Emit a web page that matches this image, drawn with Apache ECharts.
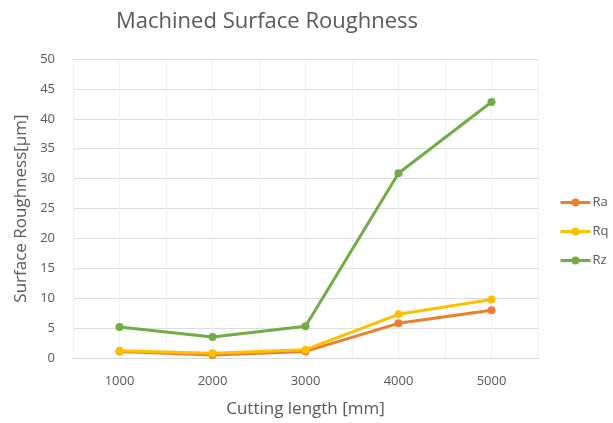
<!DOCTYPE html>
<html><head><meta charset="utf-8">
<script src="https://cdn.jsdelivr.net/npm/echarts@6/dist/echarts.min.js"></script>
<style>html,body{margin:0;padding:0;background:#fff}#c{width:613px;height:423px}</style>
</head><body><div id="c"></div>
<script>
const cuttingLength = [1000, 2000, 3000, 4000, 5000];
const ra = [1.1, 0.5, 1.1, 5.8, 8.0];
const rq = [1.2, 0.8, 1.4, 7.3, 9.8];
const rz = [5.2, 3.5, 5.3, 30.9, 42.8];
const seriesNames = ['Ra', 'Rq', 'Rz'];
const colors = ['#ED7D31', '#FFC000', '#70AD47'];
const fontFam = '"Open Sans", "Noto Sans", sans-serif';
const pairs = arr => cuttingLength.map((x, i) => [x, arr[i]]);
const chart = echarts.init(document.getElementById('c'));
chart.setOption({
  animation: false,
  title: { text: 'Machined Surface Roughness', left: 262, textAlign: 'center', top: 6,
    textStyle: { fontFamily: fontFam, fontSize: 22, fontWeight: 'normal', color: '#595959' } },
  grid: { left: 73, right: 75, top: 59, bottom: 65 },
  legend: { orient: 'vertical', left: 554, top: 191, itemGap: 16, itemWidth: 30, itemHeight: 10,
    lineStyle: { width: 3 },
    data: seriesNames, textStyle: { fontFamily: fontFam, fontSize: 13, color: '#595959', padding: [0, 0, 0, -3] } },
  xAxis: { type: 'value', min: 500, max: 5500, interval: 500,
    name: 'Cutting length [mm]', nameLocation: 'middle', nameGap: 43,
    nameTextStyle: { fontFamily: fontFam, fontSize: 17, color: '#595959' },
    axisLine: { show: true, lineStyle: { color: '#d9d9d9' } }, axisTick: { show: false },
    axisLabel: { fontFamily: fontFam, fontSize: 13, color: '#595959', margin: 17,
      formatter: v => (v % 1000 === 0 && cuttingLength.includes(v)) ? String(v) : '' },
    splitLine: { show: true, lineStyle: { color: '#f0f0f0' } } },
  yAxis: { type: 'value', min: 0, max: 50, interval: 5,
    name: 'Surface Roughness[μm]', nameLocation: 'middle', nameGap: 43,
    nameTextStyle: { fontFamily: fontFam, fontSize: 17, color: '#595959' },
    axisLine: { show: false }, axisTick: { show: false },
    axisLabel: { fontFamily: fontFam, fontSize: 13, color: '#595959', margin: 18 },
    splitLine: { lineStyle: { color: '#dedede' } } },
  series: [ra, rq, rz].map((arr, i) => ({
    name: seriesNames[i], type: 'line', data: pairs(arr), symbol: 'circle', symbolSize: 8,
    itemStyle: { color: colors[i] }, lineStyle: { width: 3, color: colors[i] }
  }))
});
</script></body></html>
